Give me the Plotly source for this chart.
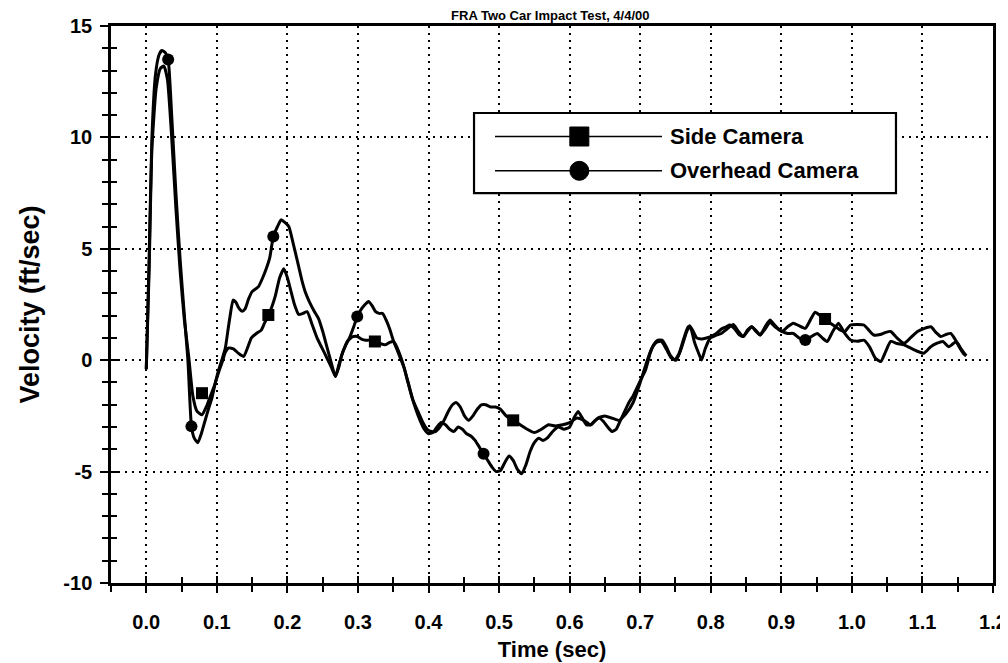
import plotly.graph_objects as go

# Side Camera velocity trace (time in sec, velocity in ft/sec)
side_t = [0.000, 0.004, 0.008, 0.014, 0.020, 0.025, 0.030, 0.036, 0.042, 0.048,
          0.054, 0.060, 0.066, 0.072, 0.079, 0.085, 0.091, 0.097, 0.103, 0.108,
          0.112, 0.117, 0.124, 0.131, 0.138, 0.144, 0.149, 0.156, 0.163, 0.168,
          0.173, 0.178, 0.183, 0.189, 0.195, 0.200, 0.205, 0.210, 0.216, 0.222,
          0.228, 0.235, 0.242, 0.249, 0.256, 0.262, 0.268, 0.273, 0.279, 0.285,
          0.292, 0.299, 0.305, 0.311, 0.317, 0.324, 0.331, 0.339, 0.345, 0.350,
          0.355, 0.360, 0.366, 0.372, 0.378, 0.385, 0.392, 0.398, 0.404, 0.410,
          0.416, 0.422, 0.428, 0.434, 0.439, 0.445, 0.451, 0.457, 0.463, 0.469,
          0.475, 0.481, 0.488, 0.495, 0.502, 0.510, 0.520, 0.530, 0.540, 0.550,
          0.560, 0.570, 0.580, 0.590, 0.600, 0.610, 0.620, 0.630, 0.640, 0.650,
          0.660, 0.670, 0.680, 0.690, 0.700, 0.708, 0.716, 0.723, 0.730, 0.737,
          0.744, 0.751, 0.758, 0.765, 0.770, 0.775, 0.780, 0.787, 0.794, 0.800,
          0.808, 0.815, 0.822, 0.827, 0.834, 0.840, 0.846, 0.852, 0.858, 0.864,
          0.870, 0.877, 0.884, 0.890, 0.896, 0.901, 0.909, 0.917, 0.925, 0.934,
          0.941, 0.948, 0.955, 0.962, 0.970, 0.977, 0.984, 0.990, 0.998, 1.008,
          1.017, 1.024, 1.031, 1.040, 1.048, 1.055, 1.064, 1.074, 1.083, 1.093,
          1.102, 1.112, 1.119, 1.126, 1.133, 1.140, 1.146, 1.152, 1.158, 1.162]
side_v = [-0.4, 4.0, 9.5, 12.2, 13.1, 13.2, 12.6, 10.0, 6.8, 4.0,
          1.8, 0.2, -1.6, -2.3, -2.45, -2.1, -1.6, -1.1, -0.5, -0.05,
          0.35, 0.55, 0.5, 0.3, 0.17, 0.6, 1.0, 1.2, 1.35, 1.7,
          2.0, 2.4, 2.9, 3.7, 4.1, 3.7, 3.1, 2.5, 2.05, 2.1,
          2.18, 1.6, 1.0, 0.55, 0.1, -0.3, -0.73, -0.2, 0.4, 0.85,
          1.05, 1.06, 0.95, 0.9, 0.9, 0.84, 0.75, 0.69, 0.8, 0.84,
          0.6, 0.2, -0.4, -1.1, -1.8, -2.3, -2.8, -3.1, -3.2, -3.2,
          -3.0, -2.7, -2.3, -2.0, -1.9, -2.1, -2.5, -2.7, -2.5, -2.2,
          -2.0, -2.0, -2.1, -2.1, -2.2, -2.5, -2.7, -2.9, -3.1, -3.25,
          -3.1, -2.9, -2.95, -2.9, -2.8, -2.6, -2.7, -2.9, -2.6, -2.5,
          -2.6, -2.7, -2.4, -1.9, -1.0, -0.2, 0.5, 0.8, 0.84, 0.5,
          0.1, 0.0, 0.5, 1.2, 1.55, 1.3, 1.0, 0.95, 1.0, 1.06,
          1.2, 1.4, 1.5, 1.58, 1.4, 1.15, 1.06, 1.3, 1.5, 1.3,
          1.13, 1.5, 1.8, 1.6, 1.4, 1.29, 1.5, 1.66, 1.55, 1.43,
          1.8, 2.15, 2.0, 1.85, 1.65, 1.5, 1.35, 1.29, 1.58, 1.6,
          1.58, 1.35, 1.13, 1.15, 1.25, 1.29, 1.0, 0.76, 1.0, 1.29,
          1.42, 1.5, 1.25, 1.06, 1.15, 1.2, 0.95, 0.6, 0.3, 0.2]

# Overhead Camera velocity trace
over_t = [0.000, 0.004, 0.008, 0.013, 0.018, 0.022, 0.027, 0.031, 0.036, 0.042,
          0.048, 0.054, 0.059, 0.064, 0.068, 0.073, 0.078, 0.083, 0.088, 0.093,
          0.098, 0.102, 0.107, 0.112, 0.116, 0.119, 0.123, 0.127, 0.131, 0.136,
          0.140, 0.145, 0.150, 0.155, 0.159, 0.165, 0.170, 0.175, 0.180, 0.186,
          0.191, 0.196, 0.202, 0.207, 0.211, 0.216, 0.221, 0.226, 0.231, 0.238,
          0.244, 0.250, 0.256, 0.262, 0.268, 0.273, 0.277, 0.283, 0.288, 0.294,
          0.299, 0.305, 0.310, 0.315, 0.320, 0.325, 0.330, 0.335, 0.340, 0.345,
          0.350, 0.355, 0.360, 0.365, 0.370, 0.376, 0.382, 0.388, 0.394, 0.400,
          0.406, 0.412, 0.418, 0.424, 0.430, 0.436, 0.442, 0.448, 0.454, 0.460,
          0.466, 0.472, 0.478, 0.484, 0.490, 0.496, 0.502, 0.508, 0.514, 0.520,
          0.526, 0.532, 0.538, 0.544, 0.550, 0.556, 0.562, 0.568, 0.576, 0.584,
          0.592, 0.600, 0.606, 0.612, 0.618, 0.624, 0.630, 0.636, 0.642, 0.648,
          0.654, 0.660, 0.666, 0.672, 0.678, 0.684, 0.690, 0.696, 0.702, 0.708,
          0.714, 0.719, 0.725, 0.731, 0.737, 0.743, 0.749, 0.755, 0.762, 0.768,
          0.772, 0.777, 0.783, 0.787, 0.792, 0.799, 0.806, 0.815, 0.823, 0.832,
          0.839, 0.846, 0.852, 0.858, 0.865, 0.870, 0.877, 0.884, 0.891, 0.901,
          0.909, 0.917, 0.925, 0.934, 0.942, 0.951, 0.958, 0.965, 0.973, 0.981,
          0.990, 0.998, 1.008, 1.017, 1.025, 1.033, 1.041, 1.048, 1.055, 1.064,
          1.074, 1.083, 1.093, 1.102, 1.112, 1.120, 1.129, 1.137, 1.142, 1.148,
          1.155, 1.162]
over_v = [-0.4, 4.5, 10.0, 12.8, 13.7, 13.9, 13.8, 13.5, 11.0, 7.5,
          4.5, 2.0, 0.0, -2.97, -3.5, -3.7, -3.3, -2.75, -2.2, -1.7,
          -1.0, -0.5, 0.0, 0.54, 1.4, 2.03, 2.7, 2.6, 2.35, 2.2,
          2.3, 2.75, 3.08, 3.2, 3.3, 3.7, 4.1, 4.6, 5.55, 6.0,
          6.3, 6.2, 6.0, 5.4, 4.87, 4.2, 3.53, 3.0, 2.63, 2.2,
          1.88, 1.3, 0.6, -0.1, -0.73, -0.3, 0.24, 0.7, 1.0, 1.5,
          1.96, 2.3, 2.5, 2.63, 2.45, 2.18, 2.1, 2.1, 1.8, 1.4,
          0.9, 0.5, 0.1, -0.3, -0.9, -1.6, -2.2, -2.7, -3.1, -3.3,
          -3.25, -3.0, -2.8, -2.9, -3.1, -3.2, -3.0, -3.1, -3.3, -3.4,
          -3.6, -3.9, -4.2, -4.5, -4.8, -5.0, -4.95, -4.6, -4.3, -4.5,
          -4.9, -5.1, -4.7, -4.1, -3.7, -3.5, -3.6, -3.5, -3.2, -3.0,
          -3.1, -3.0, -2.6, -2.3, -2.6, -2.9, -2.9, -2.7, -2.6, -2.75,
          -3.0, -3.2, -3.1, -2.7, -2.3, -1.9, -1.6, -1.2, -0.8, -0.4,
          0.3, 0.69, 0.9, 0.9, 0.6, 0.2, 0.01, 0.3, 1.0, 1.5,
          1.4, 0.8, 0.3, 0.01, 0.5, 0.99, 1.1, 1.2, 1.4, 1.6,
          1.3, 1.06, 1.35, 1.5, 1.3, 1.13, 1.4, 1.7, 1.5, 1.29,
          1.2, 1.2, 1.0, 0.91, 1.05, 1.2, 1.0, 0.84, 1.3, 1.66,
          1.2, 0.91, 0.85, 0.9, 0.6, 0.1, -0.06, 0.4, 0.84, 0.75,
          0.69, 0.55, 0.4, 0.31, 0.61, 0.75, 0.84, 0.6, 0.7, 0.84,
          0.5, 0.2]

# sparse plotting symbols as they appear on each curve
side_mark_t = [0.079, 0.173, 0.324, 0.520, 0.962]
side_mark_v = [-1.48, 2.03, 0.84, -2.7, 1.85]
over_mark_t = [0.031, 0.064, 0.180, 0.299, 0.478, 0.934]
over_mark_v = [13.5, -2.97, 5.55, 1.96, -4.2, 0.91]

x_ticks = [round(0.1 * i, 1) for i in range(13)]
x_labels = ["%.1f" % v for v in x_ticks]
y_ticks = [-10, -5, 0, 5, 10, 15]
y_labels = ["-10", "-5", "0", "5", "10", "15"]

FONT = "Liberation Sans, Arial, sans-serif"
LINE_W = 3

fig = go.Figure()
fig.add_trace(go.Scatter(x=side_t, y=side_v, mode="lines", name="Side Camera",
                         line=dict(color="black", width=LINE_W, shape="spline", smoothing=0.5)))
fig.add_trace(go.Scatter(x=over_t, y=over_v, mode="lines", name="Overhead Camera",
                         line=dict(color="black", width=LINE_W, shape="spline", smoothing=0.5)))
fig.add_trace(go.Scatter(x=side_mark_t, y=side_mark_v, mode="markers",
                         marker=dict(symbol="square", size=12, color="black")))
fig.add_trace(go.Scatter(x=over_mark_t, y=over_mark_v, mode="markers",
                         marker=dict(symbol="circle", size=12, color="black")))
# empty trace so the overlay axes (inner half of the crossing ticks) get drawn
fig.add_trace(go.Scatter(x=[], y=[], xaxis="x2", yaxis="y2"))

grid = dict(showgrid=True, gridcolor="black", gridwidth=1.6, griddash="2px,5px")
tickfont = dict(family=FONT, size=20, color="black", weight="bold")

fig.update_layout(
    width=1008, height=663,
    margin=dict(l=103, r=23, t=18, b=88),
    paper_bgcolor="white", plot_bgcolor="white",
    showlegend=False,
    font=dict(family=FONT, color="black"),
    title=dict(text="<b>FRA Two Car Impact Test, 4/4/00</b>", x=0.538, xanchor="center",
               yref="container", y=0.996, yanchor="top", pad=dict(t=0, b=0),
               font=dict(family=FONT, size=13, color="black")),
    xaxis=dict(range=[-0.05, 1.2], tickvals=x_ticks, ticktext=x_labels,
               ticks="outside", ticklen=7, tickwidth=1.5, tickcolor="black",
               minor=dict(dtick=0.05, tick0=0, ticks="outside", ticklen=6, tickwidth=1.5, tickcolor="black"),
               showline=True, linecolor="black", linewidth=2.5, mirror=True, automargin=False,
               zeroline=False, tickfont=tickfont, ticklabelstandoff=12,
               title=dict(text="<b>Time (sec)</b>", font=dict(family=FONT, size=22), standoff=10),
               **grid),
    yaxis=dict(range=[-10, 15], tickvals=y_ticks, ticktext=y_labels,
               ticks="outside", ticklen=8, tickwidth=2, tickcolor="black",
               minor=dict(dtick=1, tick0=0, ticks="outside", ticklen=6, tickwidth=2, tickcolor="black"),
               showline=True, linecolor="black", linewidth=2.5, mirror=True, automargin=False,
               zeroline=False, tickfont=tickfont, ticklabelstandoff=4,
               title=dict(text="<b>Velocity (ft/sec)</b>", font=dict(family=FONT, size=27), standoff=16),
               **grid),
    xaxis2=dict(overlaying="x", anchor="y", side="bottom", range=[-0.05, 1.2],
                tickvals=x_ticks, ticks="inside", ticklen=7, tickwidth=1.5, tickcolor="black",
                minor=dict(dtick=0.05, tick0=0, ticks="inside", ticklen=6, tickwidth=1.5, tickcolor="black"),
                showticklabels=False, showgrid=False, showline=False, zeroline=False),
    yaxis2=dict(overlaying="y", anchor="x", side="left", range=[-10, 15],
                tickvals=y_ticks, ticks="inside", ticklen=8, tickwidth=2, tickcolor="black",
                minor=dict(dtick=1, tick0=0, ticks="inside", ticklen=6, tickwidth=2, tickcolor="black"),
                showticklabels=False, showgrid=False, showline=False, zeroline=False),
)

# hand-drawn legend box with long sample lines
fig.add_shape(type="rect", xref="paper", yref="paper", x0=0.4116, x1=0.890, y0=0.700, y1=0.8438,
              line=dict(color="black", width=2.2), fillcolor="white", layer="above")
legend_rows = [("Side Camera", "square", 0.8016), ("Overhead Camera", "circle", 0.740)]
for label, symbol, ly in legend_rows:
    fig.add_shape(type="line", xref="paper", yref="paper", x0=0.4354, x1=0.6247, y0=ly, y1=ly,
                  line=dict(color="black", width=1.5), layer="above")
    fig.add_shape(type="rect" if symbol == "square" else "circle", xref="paper", yref="paper",
                  xsizemode="pixel", ysizemode="pixel", xanchor=0.531, yanchor=ly,
                  x0=-9.5, x1=9.5, y0=-9.5, y1=9.5, line=dict(color="black", width=1),
                  fillcolor="black", layer="above")
    fig.add_annotation(text="<b>%s</b>" % label, xref="paper", yref="paper", x=0.632, y=ly,
                       xanchor="left", yanchor="middle", showarrow=False,
                       font=dict(family=FONT, size=22, color="black"))

fig.write_html("out.html")
